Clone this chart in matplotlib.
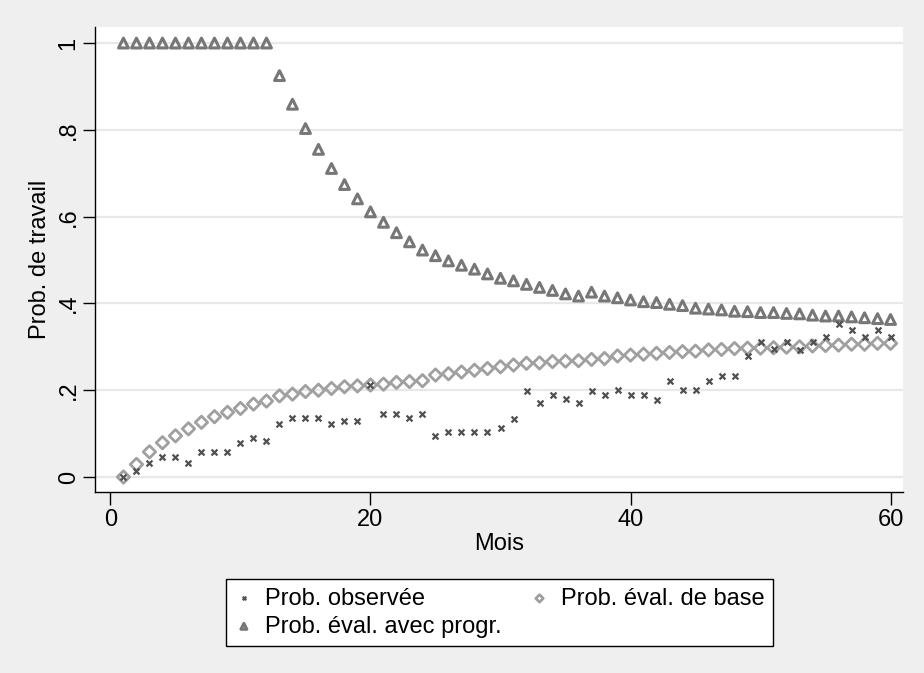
import numpy as np
import matplotlib
matplotlib.use("Agg")
import matplotlib.pyplot as plt

# months 1..60
mois = list(range(1, 61))

prob_observee = [
    0.000, 0.014, 0.032, 0.045, 0.045, 0.032, 0.058, 0.058, 0.058, 0.079,
    0.091, 0.084, 0.122, 0.137, 0.137, 0.137, 0.122, 0.129, 0.129, 0.212,
    0.145, 0.145, 0.137, 0.145, 0.094, 0.103, 0.103, 0.103, 0.103, 0.114,
    0.133, 0.199, 0.170, 0.189, 0.179, 0.170, 0.199, 0.189, 0.200, 0.189,
    0.189, 0.177, 0.222, 0.200, 0.200, 0.222, 0.233, 0.233, 0.279, 0.312,
    0.294, 0.312, 0.293, 0.312, 0.323, 0.352, 0.339, 0.323, 0.339, 0.323,
]

prob_base = [
    0.000, 0.029, 0.058, 0.079, 0.095, 0.111, 0.126, 0.139, 0.149, 0.158,
    0.168, 0.175, 0.187, 0.191, 0.197, 0.200, 0.204, 0.208, 0.210, 0.212,
    0.214, 0.218, 0.220, 0.222, 0.235, 0.238, 0.242, 0.246, 0.250, 0.254,
    0.258, 0.262, 0.263, 0.266, 0.267, 0.268, 0.271, 0.273, 0.279, 0.281,
    0.283, 0.285, 0.287, 0.289, 0.290, 0.293, 0.294, 0.296, 0.297, 0.297,
    0.298, 0.299, 0.300, 0.302, 0.303, 0.304, 0.306, 0.306, 0.308, 0.308,
]

prob_progr = [
    1.000, 1.000, 1.000, 1.000, 1.000, 1.000, 1.000, 1.000, 1.000, 1.000,
    1.000, 1.000, 0.925, 0.859, 0.803, 0.755, 0.711, 0.674, 0.641, 0.611,
    0.587, 0.563, 0.542, 0.523, 0.510, 0.498, 0.488, 0.479, 0.468, 0.458,
    0.452, 0.444, 0.437, 0.430, 0.422, 0.417, 0.426, 0.417, 0.413, 0.408,
    0.404, 0.402, 0.398, 0.395, 0.389, 0.387, 0.385, 0.382, 0.381, 0.379,
    0.379, 0.377, 0.376, 0.373, 0.371, 0.371, 0.369, 0.367, 0.365, 0.363,
]

y_ticks = [0, 0.2, 0.4, 0.6, 0.8, 1.0]
y_ticklabels = ["0", ".2", ".4", ".6", ".8", "1"]
x_ticks = [0, 20, 40, 60]

plt.rcParams['font.family'] = ['Liberation Sans', 'DejaVu Sans']

bg = '#efefef'
fs = 17
fig = plt.figure(figsize=(9.24, 6.73), dpi=100, facecolor=bg)
ax = fig.add_axes([0.1028, 0.2689, 0.8745, 0.6910])
ax.set_facecolor('white')

# gridlines
for yt in y_ticks:
    ax.axhline(yt, color='#e8e8e8', linewidth=1.6, zorder=0)

h_obs = ax.scatter(mois, prob_observee, marker='x', s=18, color='#505050',
                   linewidths=1.6, zorder=3, label='Prob. observée')
h_base = ax.scatter(mois, prob_base, marker='D', s=40, facecolors='none',
                    edgecolors='#a0a0a0', linewidths=2.0, zorder=2,
                    label='Prob. éval. de base')
h_prog = ax.scatter(mois, prob_progr, marker='^', s=50, facecolors='none',
                    edgecolors='#777777', linewidths=2.2, zorder=2,
                    label='Prob. éval. avec progr.')

ax.set_xlim(-1.19, 60.96)
ax.set_ylim(-0.0346, 1.037)

for side in ['top', 'right']:
    ax.spines[side].set_visible(False)
for side in ['left', 'bottom']:
    ax.spines[side].set_color('black')
    ax.spines[side].set_linewidth(1.0)

ax.set_yticks(y_ticks)
ax.set_yticklabels(y_ticklabels, rotation=90, va='center')
ax.set_xticks(x_ticks)
ax.tick_params(axis='both', direction='out', length=9, width=1.0,
               labelsize=fs, color='black')
ax.tick_params(axis='y', pad=2)
ax.tick_params(axis='x', pad=3)

ax.set_xlabel('Mois', fontsize=fs, labelpad=2)
ax.set_ylabel('Prob. de travail', fontsize=fs, labelpad=5)

leg = fig.legend(handles=[h_obs, h_prog, h_base],
                 labels=['Prob. observée', 'Prob. éval. avec progr.', 'Prob. éval. de base'],
                 ncol=2, loc='center', bbox_to_anchor=(0.5405, 0.0898),
                 fontsize=fs, frameon=True, fancybox=False,
                 edgecolor='black', facecolor='white', framealpha=1,
                 handlelength=0.8, handletextpad=0.5, columnspacing=1.2,
                 borderpad=0.35, labelspacing=0.25, markerscale=0.6)
leg.get_frame().set_linewidth(1.0)

fig.savefig('out.png', dpi=100, facecolor=bg)
